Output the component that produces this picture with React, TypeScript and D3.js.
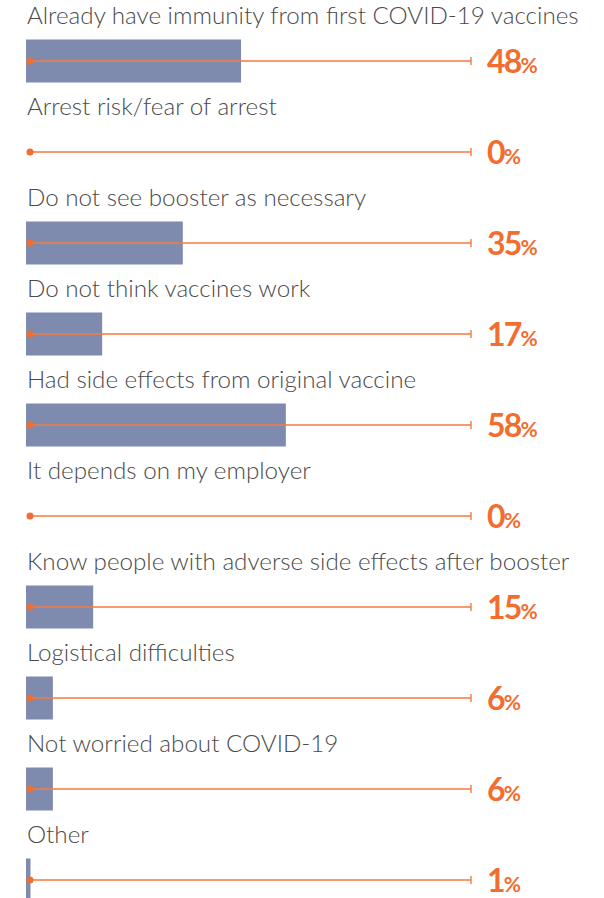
import React from "react";
import * as d3 from "d3";

const categories = [
  "Already have immunity from first COVID-19 vaccines",
  "Arrest risk/fear of arrest",
  "Do not see booster as necessary",
  "Do not think vaccines work",
  "Had side effects from original vaccine",
  "It depends on my employer",
  "Know people with adverse side effects after booster",
  "Logistical difficulties",
  "Not worried about COVID-19",
  "Other",
];
const values = [48, 0, 35, 17, 58, 0, 15, 6, 6, 1];

const W = 604;
const H = 898;
const BAR = "#7f8aaf";
const ORANGE = "#f26d30";
const LINE = "#f47a3e";
const TEXT = "#4a4a4a";

export default function App() {
  const x = d3.scaleLinear().domain([0, 100]).range([26, 474]);
  const y = d3
    .scaleBand<number>()
    .domain(d3.range(categories.length))
    .range([15, 15 + 91 * categories.length])
    .paddingInner(0)
    .paddingOuter(0);
  const barH = 43;
  return (
    <svg
      width={W}
      height={H}
      style={{ position: "absolute", left: 0, top: 0, background: "#fff" }}
    >
      {categories.map((c, i) => {
        const cy = (y(i) as number) + 46;
        const v = values[i];
        return (
          <g key={c}>
            <text
              x={27}
              y={cy - 37}
              fontFamily="Lato"
              fontWeight={300}
              fontSize={24.2}
              fill={TEXT}
            >
              {c}
            </text>
            {v > 0 && (
              <rect
                x={x(0)}
                y={cy - barH / 2}
                width={x(v) - x(0)}
                height={barH}
                fill={BAR}
              />
            )}
            <line
              x1={x(0) + 4}
              x2={x(100) - 3}
              y1={cy}
              y2={cy}
              stroke={LINE}
              strokeWidth={1.4}
            />
            <line
              x1={x(100) - 3}
              x2={x(100) - 3}
              y1={cy - 4}
              y2={cy + 4}
              stroke={LINE}
              strokeWidth={1.4}
            />
            <circle cx={x(0) + 4} cy={cy} r={3.5} fill={ORANGE} />
            <text
              x={487}
              y={cy + 12}
              fontFamily="Lato"
              fontWeight={700}
              fontSize={32}
              letterSpacing={-1.8}
              fill={ORANGE}
            >
              {v}
              <tspan fontSize={21} letterSpacing={0}>
                %
              </tspan>
            </text>
          </g>
        );
      })}
    </svg>
  );
}
